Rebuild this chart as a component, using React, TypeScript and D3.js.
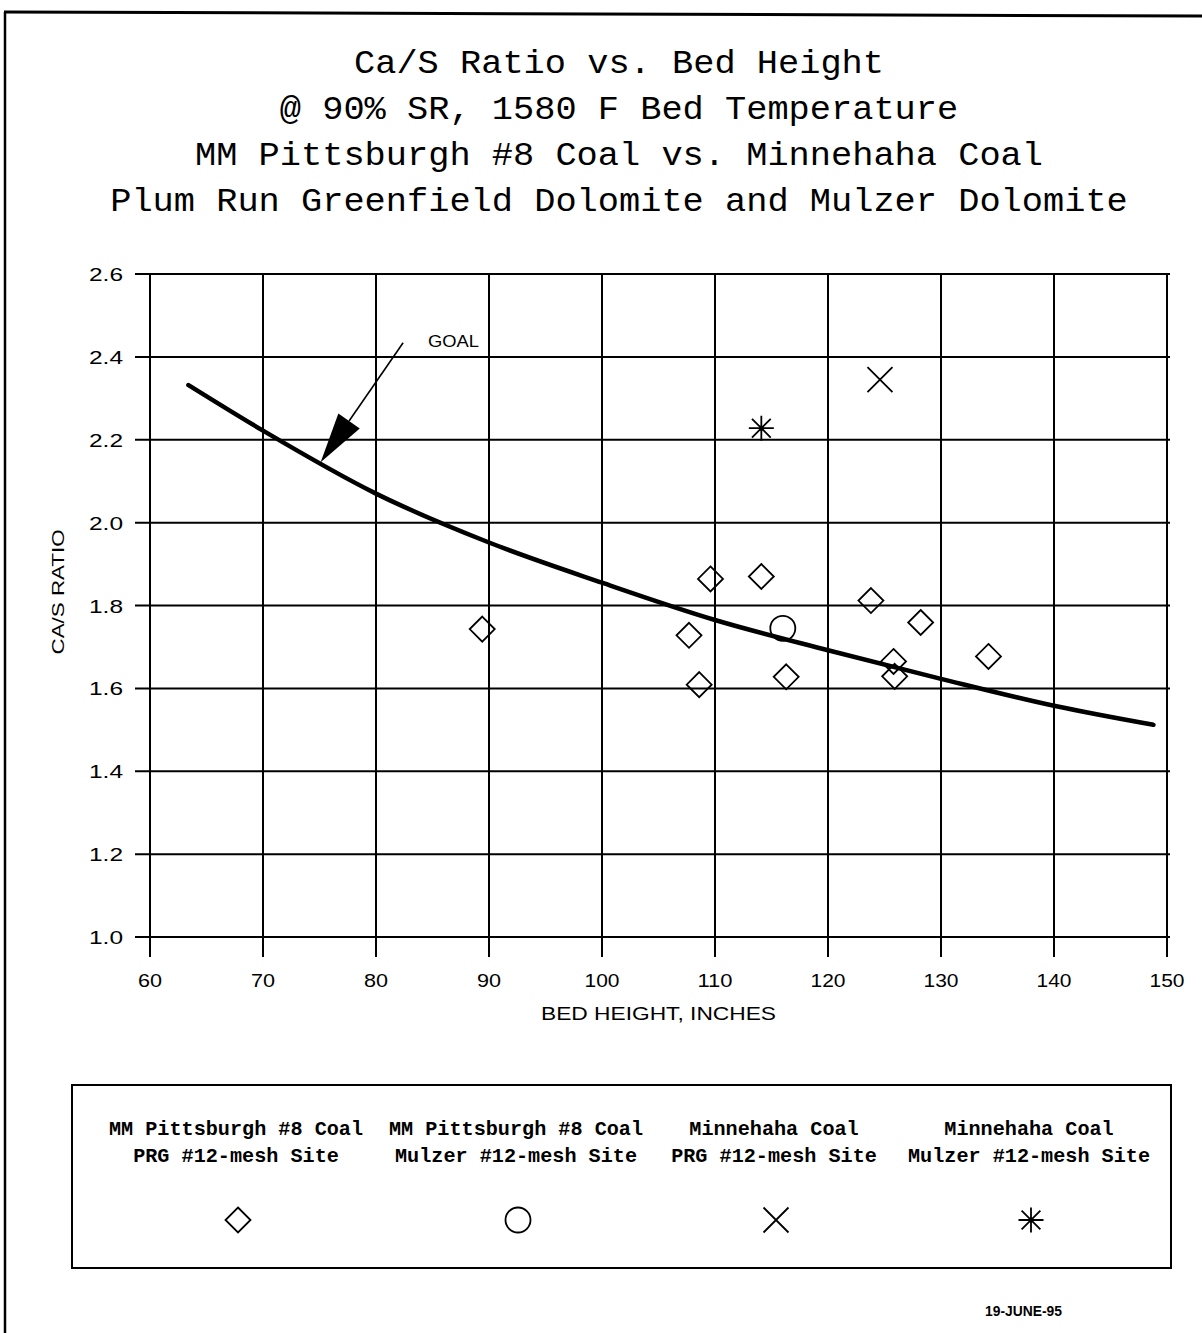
import React from 'react';
import * as d3 from 'd3';

const titleLines = [
  'Ca/S Ratio vs. Bed Height',
  '@ 90% SR, 1580 F Bed Temperature',
  'MM Pittsburgh #8 Coal vs. Minnehaha Coal',
  'Plum Run Greenfield Dolomite and Mulzer Dolomite',
];
const xTicks = [60, 70, 80, 90, 100, 110, 120, 130, 140, 150];
const yTicks = [1.0, 1.2, 1.4, 1.6, 1.8, 2.0, 2.2, 2.4, 2.6];
const xLabel = 'BED HEIGHT, INCHES';
const yLabel = 'CA/S RATIO';
const dateLabel = '19-JUNE-95';

// Goal curve
const goalX = [63.4, 70, 80, 90, 100, 110, 120, 130, 140, 148.8];
const goalY = [2.332, 2.222, 2.070, 1.952, 1.855, 1.765, 1.692, 1.623, 1.558, 1.512];

// Series
const pittPrgX = [89.4, 107.7, 108.6, 109.6, 114.1, 116.3, 123.8, 125.8, 125.9, 128.2, 134.2];
const pittPrgY = [1.743, 1.728, 1.609, 1.864, 1.870, 1.628, 1.812, 1.665, 1.629, 1.759, 1.677];
const pittMulzerX = [116.0];
const pittMulzerY = [1.745];
const minnPrgX = [124.6];
const minnPrgY = [2.345];
const minnMulzerX = [114.1];
const minnMulzerY = [2.228];

const legendLine1 = ['MM Pittsburgh #8 Coal', 'MM Pittsburgh #8 Coal', 'Minnehaha Coal', 'Minnehaha Coal'];
const legendLine2 = ['PRG #12-mesh Site', 'Mulzer #12-mesh Site', 'PRG #12-mesh Site', 'Mulzer #12-mesh Site'];
const legendSymbols = ['diamond', 'circle', 'x', 'asterisk'];

const goalLabel = 'GOAL';
const goalArrowFrom = [82.4, 2.434];
const goalArrowTo = [75.1, 2.146];
const goalLabelAt = [84.6, 2.438];

const W = 1202;
const H = 1333;
const X0 = 150, X1 = 1167, Y0 = 937, Y1 = 274;

function Symbol({ type, cx, cy, s }: { type: string; cx: number; cy: number; s: number }) {
  const st = { fill: 'none', stroke: '#000', strokeWidth: 1.8 };
  if (type === 'diamond') {
    return <path d={`M${cx},${cy - s}L${cx + s},${cy}L${cx},${cy + s}L${cx - s},${cy}Z`} {...st} />;
  }
  if (type === 'circle') {
    return <circle cx={cx} cy={cy} r={s} {...st} />;
  }
  if (type === 'x') {
    return <path d={`M${cx - s},${cy - s}L${cx + s},${cy + s}M${cx - s},${cy + s}L${cx + s},${cy - s}`} {...st} />;
  }
  return (
    <g>
      <path
        d={`M${cx - s},${cy}L${cx + s},${cy}M${cx},${cy - s}L${cx},${cy + s}M${cx - s * 0.75},${cy - s * 0.75}L${cx + s * 0.75},${cy + s * 0.75}M${cx - s * 0.75},${cy + s * 0.75}L${cx + s * 0.75},${cy - s * 0.75}`}
        {...st}
      />
      <circle cx={cx} cy={cy} r={2.5} fill="#000" />
    </g>
  );
}

export default function App() {
  const x = d3.scaleLinear().domain([60, 150]).range([X0, X1]);
  const y = d3.scaleLinear().domain([1.0, 2.6]).range([Y0, Y1]);
  const fmt = d3.format('.1f');

  const goalPts: [number, number][] = goalX.map((v, i) => [v, goalY[i]]);
  const goalPath = d3
    .line<[number, number]>()
    .x((d) => x(d[0]))
    .y((d) => y(d[1]))
    .curve(d3.curveMonotoneX)(goalPts) || '';

  // arrow geometry
  const tx = x(goalArrowTo[0]), ty = y(goalArrowTo[1]);
  const fx = x(goalArrowFrom[0]), fy = y(goalArrowFrom[1]);
  const len = Math.hypot(fx - tx, fy - ty);
  const ux = (fx - tx) / len, uy = (fy - ty) / len;
  const nx = -uy, ny = ux;
  const headL = 50, headW = 13;
  const bx = tx + ux * headL, by = ty + uy * headL;

  const series = [
    { xs: pittPrgX, ys: pittPrgY, type: 'diamond' },
    { xs: pittMulzerX, ys: pittMulzerY, type: 'circle' },
    { xs: minnPrgX, ys: minnPrgY, type: 'x' },
    { xs: minnMulzerX, ys: minnMulzerY, type: 'asterisk' },
  ];

  const legendCx = [236, 516, 774, 1029];
  const mono = '"Liberation Mono", "DejaVu Sans Mono", monospace';
  const sans = '"Liberation Sans", Arial, sans-serif';

  return (
    <div style={{ position: 'absolute', left: 0, top: 0 }}>
      <svg width={W} height={H} viewBox={`0 0 ${W} ${H}`} style={{ display: 'block', background: '#fff' }}>
        <rect x={0} y={0} width={W} height={H} fill="#fff" />
        {/* page border */}
        <line x1={4} y1={12} x2={W} y2={16} stroke="#000" strokeWidth={3} />
        <line x1={5} y1={12} x2={5} y2={H} stroke="#000" strokeWidth={2.5} />

        {/* titles */}
        {titleLines.map((t, i) => (
          <text
            key={i}
            x={619}
            y={73 + i * 46}
            textAnchor="middle"
            fontFamily={mono}
            fontSize={33}
            textLength={t.length * 21.2}
            lengthAdjust="spacingAndGlyphs"
            fill="#000"
          >
            {t}
          </text>
        ))}

        {/* grid */}
        {xTicks.map((v) => (
          <line key={'vx' + v} x1={x(v)} x2={x(v)} y1={Y1} y2={Y0 + 20} stroke="#000" strokeWidth={2} />
        ))}
        {yTicks.map((v) => (
          <line key={'hy' + v} x1={X0 - 15} x2={X1 + 3} y1={y(v)} y2={y(v)} stroke="#000" strokeWidth={2} />
        ))}

        {/* tick labels */}
        {yTicks.map((v) => (
          <text
            key={'ty' + v}
            x={123}
            y={y(v) + 7}
            textAnchor="end"
            fontFamily={sans}
            fontSize={19}
            textLength={34}
            lengthAdjust="spacingAndGlyphs"
          >
            {fmt(v)}
          </text>
        ))}
        {xTicks.map((v) => (
          <text
            key={'tx' + v}
            x={x(v)}
            y={987}
            textAnchor="middle"
            fontFamily={sans}
            fontSize={19}
            textLength={String(v).length > 2 ? 35 : 24}
            lengthAdjust="spacingAndGlyphs"
          >
            {v}
          </text>
        ))}
        <text x={(X0 + X1) / 2} y={1020} textAnchor="middle" fontFamily={sans} fontSize={18} textLength={235} lengthAdjust="spacingAndGlyphs">
          {xLabel}
        </text>
        <text
          transform={`translate(64,${592}) rotate(-90)`}
          textAnchor="middle"
          fontFamily={sans}
          fontSize={17}
          textLength={125}
          lengthAdjust="spacingAndGlyphs"
        >
          {yLabel}
        </text>

        {/* goal curve */}
        <path d={goalPath} fill="none" stroke="#000" strokeWidth={4.5} strokeLinecap="round" />

        {/* goal annotation */}
        <line x1={fx} y1={fy} x2={bx} y2={by} stroke="#000" strokeWidth={1.6} />
        <path
          d={`M${tx},${ty}L${bx + nx * headW},${by + ny * headW}L${bx - nx * headW},${by - ny * headW}Z`}
          fill="#000"
        />
        <text x={x(goalLabelAt[0])} y={y(goalLabelAt[1]) + 6} fontFamily={sans} fontSize={17} textLength={51} lengthAdjust="spacingAndGlyphs">
          {goalLabel}
        </text>

        {/* data points */}
        {series.map((s, si) =>
          s.xs.map((v, i) => <Symbol key={si + '-' + i} type={s.type} cx={x(v)} cy={y(s.ys[i])} s={12.5} />)
        )}

        {/* legend */}
        <rect x={72} y={1085} width={1099} height={183} fill="none" stroke="#000" strokeWidth={2} />
        {legendLine1.map((t, i) => (
          <g key={'lg' + i}>
            <text
              x={legendCx[i]}
              y={1135}
              textAnchor="middle"
              fontFamily={mono}
              fontWeight="bold"
              fontSize={21}
              textLength={t.length * 12.1}
              lengthAdjust="spacingAndGlyphs"
            >
              {t}
            </text>
            <text
              x={legendCx[i]}
              y={1162}
              textAnchor="middle"
              fontFamily={mono}
              fontWeight="bold"
              fontSize={21}
              textLength={legendLine2[i].length * 12.1}
              lengthAdjust="spacingAndGlyphs"
            >
              {legendLine2[i]}
            </text>
            <Symbol type={legendSymbols[i]} cx={legendCx[i] + 2} cy={1220} s={12.5} />
          </g>
        ))}

        <text x={985} y={1316} fontFamily={sans} fontWeight="bold" fontSize={14} textLength={77} lengthAdjust="spacingAndGlyphs">
          {dateLabel}
        </text>
      </svg>
    </div>
  );
}
